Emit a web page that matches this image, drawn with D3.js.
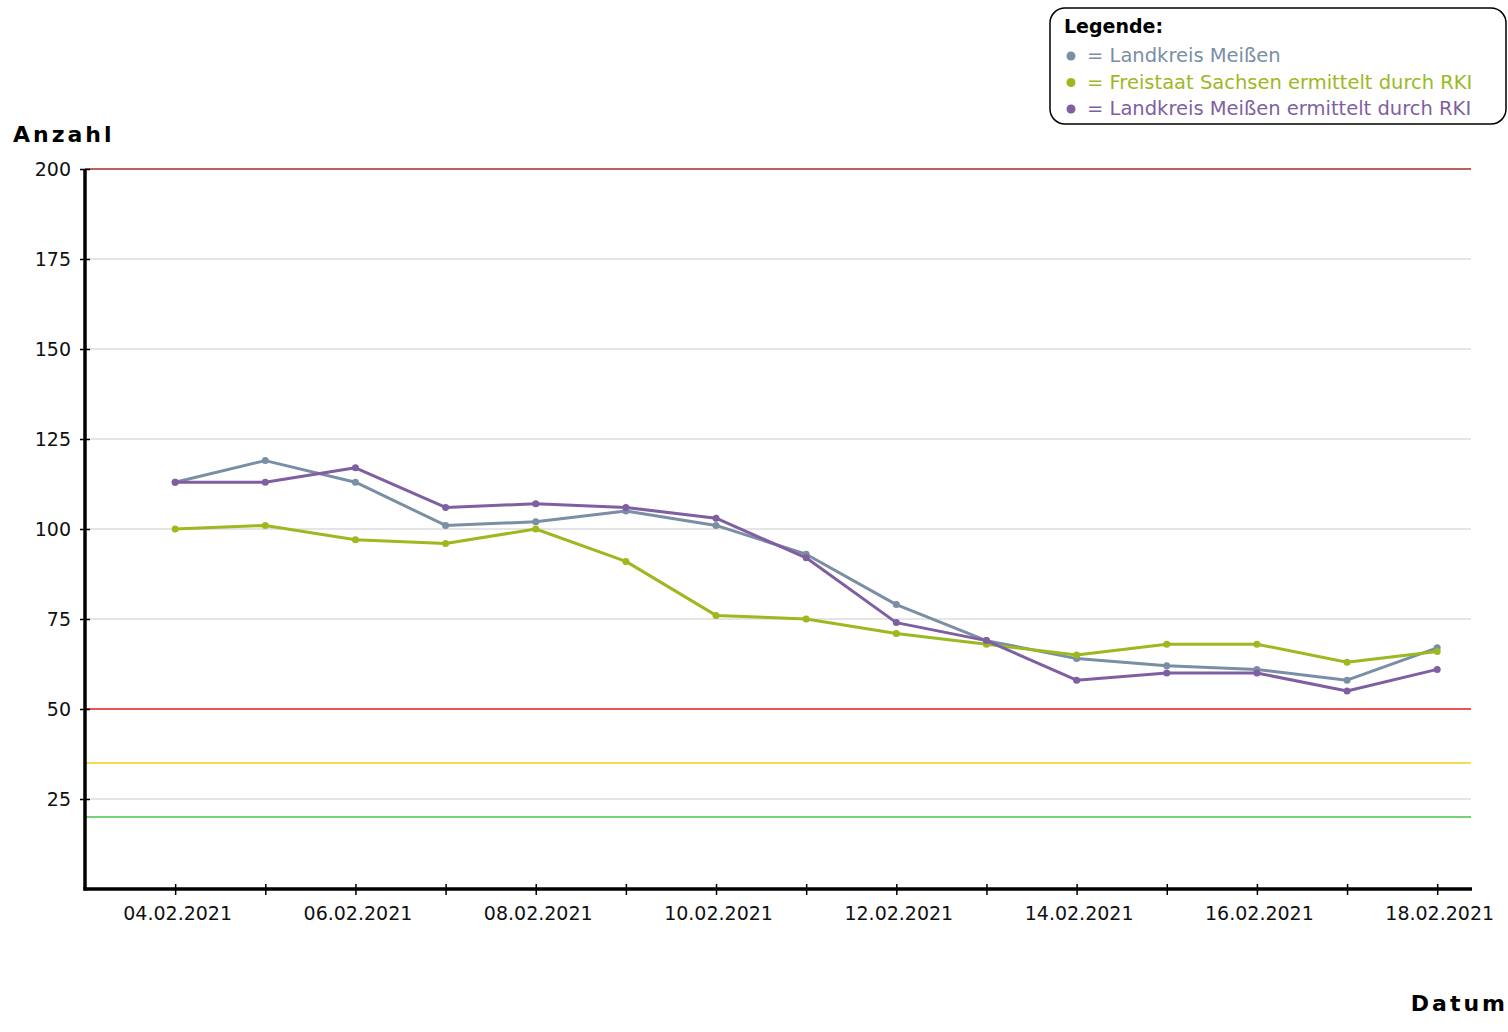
<!DOCTYPE html>
<html>
<head>
<meta charset="utf-8">
<script src="https://cdn.jsdelivr.net/npm/d3@7"></script>
<style>
  body { margin: 0; background: #fff; }
  svg { font-family: "DejaVu Sans", Verdana, sans-serif; }
</style>
</head>
<body>
<svg width="1508" height="1032"></svg>
<script>
// daily values, 04.02.2021 .. 18.02.2021
let dates = ["2021-02-04", "2021-02-05", "2021-02-06", "2021-02-07", "2021-02-08",
             "2021-02-09", "2021-02-10", "2021-02-11", "2021-02-12", "2021-02-13",
             "2021-02-14", "2021-02-15", "2021-02-16", "2021-02-17", "2021-02-18"];
let meissen    = [113, 119, 113, 101, 102, 105, 101, 93, 79, 69, 64, 62, 61, 58, 67];
let sachsenRki = [100, 101, 97, 96, 100, 91, 76, 75, 71, 68, 65, 68, 68, 63, 66];
let meissenRki = [113, 113, 117, 106, 107, 106, 103, 92, 74, 69, 58, 60, 60, 55, 61];

let seriesNames = ["Landkreis Meißen", "Freistaat Sachsen ermittelt durch RKI", "Landkreis Meißen ermittelt durch RKI"];
let seriesColors = ["#7a8ea5", "#9cb91f", "#7f5fa1"];

let yTicks = [25, 50, 75, 100, 125, 150, 175, 200];
let thresholds = [200, 50, 35, 20];
let thresholdColors = ["#a82a2a", "#e41a1a", "#f5cf1f", "#4cc04c"];

let parse = d3.timeParse("%Y-%m-%d");
let fmt = d3.timeFormat("%d.%m.%Y");

let svg = d3.select("svg");

let x = d3.scaleTime()
    .domain([parse("2021-02-03"), d3.timeHour.offset(parse("2021-02-18"), 9.6)])
    .range([85, 1471]);
let y = d3.scaleLinear().domain([0, 200]).range([889, 169]);

// grid
svg.append("g")
    .selectAll("line")
    .data(yTicks.filter(function (d) { return thresholds.indexOf(d) < 0; }))
    .join("line")
    .attr("x1", 85).attr("x2", 1471)
    .attr("y1", function (d) { return y(d); })
    .attr("y2", function (d) { return y(d); })
    .attr("stroke", "#dcdcdc")
    .attr("stroke-width", 1.5);

// threshold lines
svg.append("g")
    .selectAll("line")
    .data(thresholds)
    .join("line")
    .attr("x1", 85).attr("x2", 1471)
    .attr("y1", function (d) { return y(d); })
    .attr("y2", function (d) { return y(d); })
    .attr("stroke", function (d, i) { return thresholdColors[i]; })
    .attr("stroke-width", 1.5);

// axes
let yAxis = svg.append("g")
    .attr("transform", "translate(85,0)")
    .call(d3.axisLeft(y).tickValues(yTicks).tickSize(5).tickPadding(9).tickSizeOuter(0));
yAxis.selectAll(".tick line").attr("x1", 5).attr("stroke", "#000").attr("stroke-width", 1.5);

let xAxis = svg.append("g")
    .attr("transform", "translate(0,889)")
    .call(d3.axisBottom(x)
        .tickValues(dates.map(parse))
        .tickSize(6)
        .tickPadding(12)
        .tickSizeOuter(0)
        .tickFormat(function (d, i) { return i % 2 === 0 ? fmt(d) : ""; }));
xAxis.selectAll(".tick line").attr("y1", -5).attr("stroke", "#000").attr("stroke-width", 1.5);
xAxis.selectAll(".tick text").attr("dx", 2);

svg.selectAll(".tick text")
    .attr("font-family", "DejaVu Sans, Verdana, sans-serif")
    .attr("font-size", 19)
    .attr("fill", "#111");
svg.selectAll(".domain").remove();

svg.append("line").attr("x1", 85).attr("x2", 85).attr("y1", 169).attr("y2", 890.5)
    .attr("stroke", "#000").attr("stroke-width", 3.5);
svg.append("line").attr("x1", 83.5).attr("x2", 1472).attr("y1", 889).attr("y2", 889)
    .attr("stroke", "#000").attr("stroke-width", 3.5);

// series
let allSeries = [meissen, sachsenRki, meissenRki];
let line = d3.line()
    .x(function (d, i) { return x(parse(dates[i])); })
    .y(function (d) { return y(d); });

allSeries.forEach(function (values, s) {
    let g = svg.append("g");
    g.append("path")
        .attr("d", line(values))
        .attr("fill", "none")
        .attr("stroke", seriesColors[s])
        .attr("stroke-width", 3)
        .attr("stroke-linejoin", "round");
    g.selectAll("circle")
        .data(values)
        .join("circle")
        .attr("cx", function (d, i) { return x(parse(dates[i])); })
        .attr("cy", function (d) { return y(d); })
        .attr("r", 3.5)
        .attr("fill", seriesColors[s]);
});

// axis titles
svg.append("text")
    .attr("x", 13).attr("y", 142)
    .attr("font-size", 22).attr("font-weight", "bold")
    .attr("letter-spacing", 3)
    .text("Anzahl");
svg.append("text")
    .attr("x", 1508).attr("y", 1011)
    .attr("text-anchor", "end")
    .attr("font-size", 22).attr("font-weight", "bold")
    .attr("letter-spacing", 3)
    .text("Datum");

// legend
let legend = svg.append("g");
legend.append("rect")
    .attr("x", 1050).attr("y", 8)
    .attr("width", 456).attr("height", 116)
    .attr("rx", 15)
    .attr("fill", "#fff").attr("stroke", "#000").attr("stroke-width", 1.5);
legend.append("text")
    .attr("x", 1064).attr("y", 33)
    .attr("font-size", 19).attr("font-weight", "bold")
    .text("Legende:");
seriesNames.forEach(function (name, i) {
    legend.append("circle")
        .attr("cx", 1071).attr("cy", 56 + i * 26.5).attr("r", 4.5)
        .attr("fill", seriesColors[i]);
    legend.append("text")
        .attr("x", 1087).attr("y", 62 + i * 26.5)
        .attr("font-size", 19.5)
        .attr("fill", seriesColors[i])
        .text("= " + name);
});
</script>
</body>
</html>
